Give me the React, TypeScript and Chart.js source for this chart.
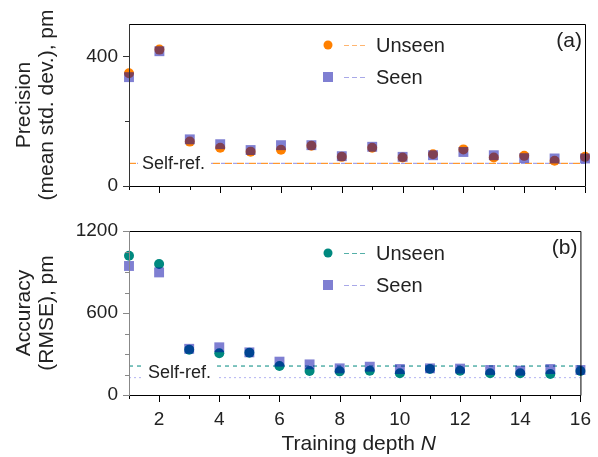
import React, { useEffect, useRef } from 'react';
import { Chart, registerables } from 'chart.js';

Chart.register(...registerables);

// ---------- data ----------
const depth = [1, 2, 3, 4, 5, 6, 7, 8, 9, 10, 11, 12, 13, 14, 15, 16];
const precisionUnseen = [348, 421, 137, 118, 106, 112, 124, 90, 118, 88, 98, 113, 88, 93, 78, 90];
const precisionSeen = [336, 416, 144, 129, 111, 126, 126, 92, 121, 90, 95, 105, 95, 86, 85, 85];
const precisionSelfRefUnseen = 70;
const precisionSelfRefSeen = 70;
const accuracyUnseen = [1019, 958, 332, 305, 310, 212, 176, 173, 178, 159, 190, 178, 159, 159, 154, 176];
const accuracySeen = [944, 897, 338, 349, 312, 244, 224, 195, 207, 190, 195, 193, 183, 178, 190, 183];
const accuracySelfRefUnseen = 212;
const accuracySelfRefSeen = 127;

const xTickValues = [1, 2, 3, 4, 5, 6, 7, 8, 9, 10, 11, 12, 13, 14, 15, 16];
const xTickLabels = [2, 4, 6, 8, 10, 12, 14, 16];
const precisionTickValues = [0, 200, 400];
const precisionTickLabels = [0, 400];
const accuracyTickValues = [0, 150, 300, 450, 600, 750, 900, 1050, 1200];
const accuracyTickLabels = [0, 600, 1200];

const seriesNames = ['Unseen', 'Seen'];

// ---------- styles ----------
const FONT = "'Liberation Sans', Arial, sans-serif";
const TEXT = '#222';
const ORANGE = '#FF8000';
const TEAL = '#00897F';
const SEEN = 'rgba(0,0,165,0.5)';

interface Panel {
  unseen: number[];
  seen: number[];
  refUnseen: number;
  refSeen: number;
  unseenColor: string;
  unseenRefColor: string;
  unseenRefDash: number[];
  seenRefColor: string;
  seenRefDash: number[];
  seenRefOffset: number;
  legendUnseenLine: string;
  yMax: number;
  yTicks: number[];
  yLabels: number[];
  titleLines: string[];
  letter: string;
  showXLabels: boolean;
  padTop: number;
  xHeight: number;
  leftAxisColor: string;
  refLabelDx: number;
  legendDy: number;
}

function makePlugin(p: Panel) {
  return {
    id: 'panelDecor',
    afterDatasetsDraw(chart: any) {
      const ctx = chart.ctx as CanvasRenderingContext2D;
      const a = chart.chartArea;
      const ys = chart.scales.y;
      ctx.save();
      // self-ref label with white background
      const yU = ys.getPixelForValue(p.refUnseen);
      const yS = ys.getPixelForValue(p.refSeen);
      const ly = (yU + yS) / 2;
      ctx.font = `18px ${FONT}`;
      const tw = ctx.measureText('Self-ref.').width;
      const tx = a.left + p.refLabelDx;
      ctx.fillStyle = '#fff';
      ctx.fillRect(tx - 4, Math.min(yU, yS) - 3, tw + 10, Math.abs(yU - yS) + 6);
      ctx.fillStyle = TEXT;
      ctx.textAlign = 'left';
      ctx.textBaseline = 'middle';
      ctx.fillText('Self-ref.', tx, ly + 1);
      ctx.restore();
    },
    afterDraw(chart: any) {
      const ctx = chart.ctx as CanvasRenderingContext2D;
      const a = chart.chartArea;
      const xs = chart.scales.x;
      const ys = chart.scales.y;
      ctx.save();

      // frame
      ctx.lineWidth = 1;
      ctx.strokeStyle = '#000';
      ctx.beginPath();
      ctx.moveTo(a.left, a.top + 0.5);
      ctx.lineTo(a.right + 0.5, a.top + 0.5);
      ctx.lineTo(a.right + 0.5, a.bottom + 0.5);
      ctx.lineTo(a.left, a.bottom + 0.5);
      ctx.stroke();
      ctx.strokeStyle = p.leftAxisColor;
      ctx.beginPath();
      ctx.moveTo(a.left + 0.5, a.top);
      ctx.lineTo(a.left + 0.5, a.bottom + 1);
      ctx.stroke();

      // x tick marks
      ctx.strokeStyle = '#000';
      for (const v of xTickValues) {
        const px = Math.round(xs.getPixelForValue(v)) + 0.5;
        const len = xTickLabels.includes(v) ? 6 : 3;
        ctx.beginPath();
        ctx.moveTo(px, a.bottom + 1);
        ctx.lineTo(px, a.bottom + 1 + len);
        ctx.stroke();
      }
      // y tick marks
      ctx.strokeStyle = p.leftAxisColor;
      for (const v of p.yTicks) {
        const py = Math.round(ys.getPixelForValue(v)) + 0.5;
        const len = p.yLabels.includes(v) ? 6 : 4;
        ctx.beginPath();
        ctx.moveTo(a.left, py);
        ctx.lineTo(a.left - len, py);
        ctx.stroke();
      }

      // legend
      const mx = a.left + 199;
      const rows = [a.top + p.legendDy, a.top + p.legendDy + 32];
      ctx.fillStyle = p.unseenColor;
      ctx.beginPath();
      ctx.arc(mx, rows[0], 4.5, 0, Math.PI * 2);
      ctx.fill();
      ctx.fillStyle = SEEN;
      ctx.fillRect(mx - 5, rows[1] - 5, 10, 10);
      ctx.lineWidth = 1;
      ctx.setLineDash([5, 3]);
      ctx.strokeStyle = p.legendUnseenLine;
      ctx.beginPath();
      ctx.moveTo(mx + 16, Math.round(rows[0]) + 0.5);
      ctx.lineTo(mx + 40, Math.round(rows[0]) + 0.5);
      ctx.stroke();
      ctx.strokeStyle = '#A8A8E8';
      ctx.beginPath();
      ctx.moveTo(mx + 16, Math.round(rows[1]) + 0.5);
      ctx.lineTo(mx + 40, Math.round(rows[1]) + 0.5);
      ctx.stroke();
      ctx.setLineDash([]);
      ctx.fillStyle = TEXT;
      ctx.font = `20px ${FONT}`;
      ctx.textAlign = 'left';
      ctx.textBaseline = 'middle';
      ctx.fillText(seriesNames[0], mx + 48, rows[0] + 1);
      ctx.fillText(seriesNames[1], mx + 48, rows[1] + 1);

      // panel letter
      ctx.font = `21px ${FONT}`;
      ctx.textAlign = 'right';
      ctx.fillText(p.letter, a.right - 3, a.top + 17);

      // y title (two lines, rotated)
      const cy = (a.top + a.bottom) / 2;
      ctx.textAlign = 'center';
      ctx.textBaseline = 'middle';
      ctx.font = `21px ${FONT}`;
      const xsPos = [a.left - 105, a.left - 82];
      p.titleLines.forEach((line, i) => {
        ctx.save();
        ctx.translate(xsPos[i], cy);
        ctx.rotate(-Math.PI / 2);
        ctx.fillText(line, 0, 0);
        ctx.restore();
      });

      // x title
      if (p.showXLabels) {
        ctx.font = `21px ${FONT}`;
        const t1 = 'Training depth ';
        const w1 = ctx.measureText(t1).width;
        ctx.font = `italic 21px ${FONT}`;
        const w2 = ctx.measureText('N').width;
        const cx = (a.left + a.right) / 2 + 4;
        const x0 = cx - (w1 + w2) / 2;
        ctx.textAlign = 'left';
        ctx.textBaseline = 'alphabetic';
        ctx.font = `21px ${FONT}`;
        ctx.fillText(t1, x0, a.bottom + 55);
        ctx.font = `italic 21px ${FONT}`;
        ctx.fillText('N', x0 + w1, a.bottom + 55);
      }
      ctx.restore();
    },
  };
}

function makeConfig(p: Panel): any {
  const first = depth[0];
  const last = depth[depth.length - 1];
  return {
    type: 'scatter',
    data: {
      datasets: [
        {
          label: seriesNames[1],
          data: depth.map((x, i) => ({ x, y: p.seen[i] })),
          pointStyle: 'rect',
          pointRadius: 7,
          pointHoverRadius: 7,
          backgroundColor: SEEN,
          borderWidth: 0,
          clip: false,
          order: 0,
        },
        {
          label: seriesNames[0],
          data: depth.map((x, i) => ({ x, y: p.unseen[i] })),
          pointStyle: 'circle',
          pointRadius: 5,
          pointHoverRadius: 5,
          backgroundColor: p.unseenColor,
          borderWidth: 0,
          clip: false,
          order: 1,
        },
        {
          type: 'line',
          label: 'Unseen self-ref',
          data: [
            { x: first, y: p.refUnseen },
            { x: last, y: p.refUnseen },
          ],
          borderColor: p.unseenRefColor,
          borderWidth: 1,
          borderDash: p.unseenRefDash,
          pointRadius: 0,
          fill: false,
          order: 3,
        },
        {
          type: 'line',
          label: 'Seen self-ref',
          data: [
            { x: first, y: p.refSeen },
            { x: last, y: p.refSeen },
          ],
          borderColor: p.seenRefColor,
          borderWidth: 1,
          borderDash: p.seenRefDash,
          borderDashOffset: p.seenRefOffset,
          pointRadius: 0,
          fill: false,
          order: 2,
        },
      ],
    },
    options: {
      animation: false,
      responsive: false,
      events: [],
      layout: { padding: { left: 0, right: 13, top: p.padTop, bottom: 0 } },
      plugins: { legend: { display: false }, tooltip: { enabled: false } },
      scales: {
        x: {
          type: 'linear',
          min: first,
          max: last,
          afterBuildTicks: (s: any) => {
            s.ticks = xTickValues.map((v) => ({ value: v }));
          },
          afterFit: (s: any) => {
            s.height = p.xHeight;
          },
          ticks: {
            autoSkip: false,
            maxRotation: 0,
            padding: 7,
            color: TEXT,
            font: { family: FONT, size: 19 },
            callback: (v: number) => (p.showXLabels && xTickLabels.includes(v) ? String(v) : ''),
          },
          grid: { display: true, drawOnChartArea: false, drawTicks: true, tickLength: 6, tickColor: 'rgba(0,0,0,0)' },
          border: { display: false },
        },
        y: {
          type: 'linear',
          min: 0,
          max: p.yMax,
          afterBuildTicks: (s: any) => {
            s.ticks = p.yTicks.map((v) => ({ value: v }));
          },
          afterFit: (s: any) => {
            s.width = 129;
          },
          ticks: {
            autoSkip: false,
            padding: 5,
            color: TEXT,
            font: { family: FONT, size: 19 },
            callback: (v: number) => (p.yLabels.includes(v) ? String(v) : ''),
          },
          grid: { display: true, drawOnChartArea: false, drawTicks: true, tickLength: 6, tickColor: 'rgba(0,0,0,0)' },
          border: { display: false },
        },
      },
    },
    plugins: [makePlugin(p)],
  };
}

const topPanel: Panel = {
  unseen: precisionUnseen,
  seen: precisionSeen,
  refUnseen: precisionSelfRefUnseen,
  refSeen: precisionSelfRefSeen,
  unseenColor: ORANGE,
  unseenRefColor: ORANGE,
  unseenRefDash: [7, 5],
  seenRefColor: 'rgba(0,0,190,0.45)',
  seenRefDash: [4, 8],
  seenRefOffset: -8,
  legendUnseenLine: '#FFB570',
  yMax: 500,
  yTicks: precisionTickValues,
  yLabels: precisionTickLabels,
  titleLines: ['Precision', '(mean std. dev.), pm'],
  letter: '(a)',
  showXLabels: false,
  padTop: 24,
  xHeight: 24,
  leftAxisColor: '#333',
  refLabelDx: 13,
  legendDy: 21,
};

const bottomPanel: Panel = {
  unseen: accuracyUnseen,
  seen: accuracySeen,
  refUnseen: accuracySelfRefUnseen,
  refSeen: accuracySelfRefSeen,
  unseenColor: TEAL,
  unseenRefColor: TEAL,
  unseenRefDash: [4, 4],
  seenRefColor: 'rgba(0,0,210,0.3)',
  seenRefDash: [2, 3],
  seenRefOffset: 0,
  legendUnseenLine: '#55B0A8',
  yMax: 1200,
  yTicks: accuracyTickValues,
  yLabels: accuracyTickLabels,
  titleLines: ['Accuracy', '(RMSE), pm'],
  letter: '(b)',
  showXLabels: true,
  padTop: 21,
  xHeight: 62,
  leftAxisColor: '#888',
  refLabelDx: 19,
  legendDy: 22,
};

function PanelChart({ panel, top, height }: { panel: Panel; top: number; height: number }) {
  const ref = useRef<HTMLCanvasElement>(null);
  useEffect(() => {
    if (!ref.current) return;
    const chart = new Chart(ref.current, makeConfig(panel));
    return () => chart.destroy();
  }, [panel]);
  return (
    <canvas
      ref={ref}
      width={598}
      height={height}
      style={{ position: 'absolute', left: 0, top, width: 598, height, display: 'block' }}
    />
  );
}

export default function App() {
  return (
    <div style={{ position: 'absolute', left: 0, top: 0, width: 598, height: 457, background: '#fff' }}>
      <PanelChart panel={topPanel} top={0} height={210} />
      <PanelChart panel={bottomPanel} top={210} height={247} />
    </div>
  );
}
